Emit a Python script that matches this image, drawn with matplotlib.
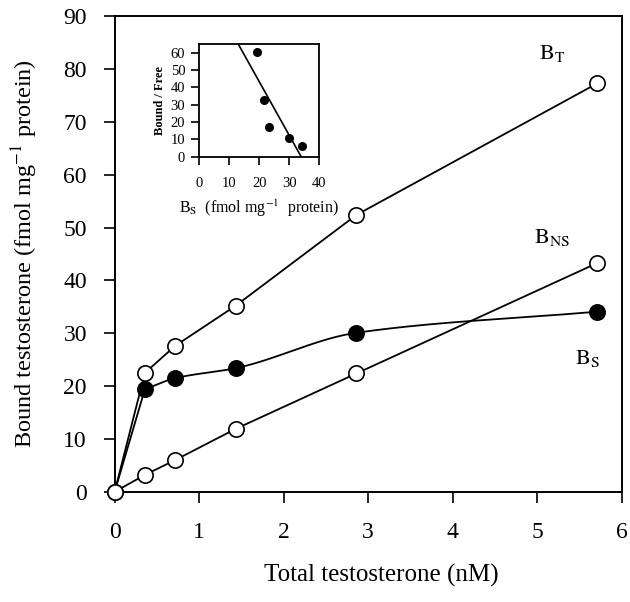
import numpy as np
import matplotlib.pyplot as plt

plt.rcParams['font.family'] = ['Liberation Serif', 'DejaVu Serif']
plt.rcParams['mathtext.fontset'] = 'stix'

# main panel: saturation binding (fmol / mg protein vs total testosterone)
total_nM = [0, 0.357, 0.714, 1.43, 2.86, 5.71]
bound_total = [0, 22.5, 27.6, 35.2, 52.4, 77.3]
bound_nonspecific = [0, 3.2, 6.0, 11.9, 22.4, 43.3]
bound_specific = [0, 19.4, 21.5, 23.4, 30.1, 34.1]

# inset: Scatchard plot of the specific binding
scatchard_bs = [19.1, 21.6, 23.2, 30.0, 34.1]
scatchard_bf = [60.6, 32.7, 17.3, 10.8, 6.3]
scatchard_bmax = 33.9      # x intercept of fitted line
scatchard_slope = -3.11    # -1/Kd


def pchip(x, y, xs):
    """Monotone cubic through the points (used for the smooth B_S curve)."""
    x = np.asarray(x, float)
    y = np.asarray(y, float)
    h = np.diff(x)
    d = np.diff(y) / h
    m = np.zeros_like(y)
    for k in range(1, len(x) - 1):
        if d[k - 1] * d[k] > 0:
            w1 = 2 * h[k] + h[k - 1]
            w2 = h[k] + 2 * h[k - 1]
            m[k] = (w1 + w2) / (w1 / d[k - 1] + w2 / d[k])
    m[0] = d[0]
    m[-1] = d[-1]
    idx = np.clip(np.searchsorted(x, xs) - 1, 0, len(x) - 2)
    t = (xs - x[idx]) / h[idx]
    h00 = 2 * t**3 - 3 * t**2 + 1
    h10 = t**3 - 2 * t**2 + t
    h01 = -2 * t**3 + 3 * t**2
    h11 = t**3 - t**2
    return h00 * y[idx] + h10 * h[idx] * m[idx] + h01 * y[idx + 1] + h11 * h[idx] * m[idx + 1]


fig = plt.figure(figsize=(6.3, 6.02), dpi=100)
ax = fig.add_axes([0.182, 0.183, 0.805, 0.790])

lw = 1.3
ms = 11
ax.plot(total_nM, bound_total, '-', color='black', lw=lw, zorder=2)
ax.plot(total_nM, bound_nonspecific, '-', color='black', lw=lw, zorder=2)

# specific binding: straight rise then smooth curve
ax.plot(total_nM[:2], bound_specific[:2], '-', color='black', lw=lw, zorder=2)
xs = np.linspace(total_nM[1], total_nM[-1], 300)
ax.plot(xs, pchip(total_nM[1:], bound_specific[1:], xs), '-', color='black', lw=lw, zorder=2)

ax.plot(total_nM[1:], bound_specific[1:], 'o', ms=ms, mfc='black', mec='black', mew=1.2, zorder=3)
ax.plot(total_nM, bound_total, 'o', ms=ms, mfc='white', mec='black', mew=1.2, zorder=4, clip_on=False)
ax.plot(total_nM, bound_nonspecific, 'o', ms=ms, mfc='white', mec='black', mew=1.2, zorder=4, clip_on=False)

ax.set_xlim(0, 6)
ax.set_ylim(0, 90)
ax.set_xticks(range(0, 7))
ax.set_yticks(range(0, 91, 10))
ax.tick_params(direction='out', length=8, width=1.2, labelsize=17)
ax.tick_params(axis='x', pad=14)
ax.tick_params(axis='y', pad=12)
for s in ax.spines.values():
    s.set_linewidth(1.4)

ax.set_xlabel('Total testosterone (nM)', fontsize=18)
ax.xaxis.set_label_coords(0.525, -0.152)
ax.set_ylabel(r'Bound testosterone (fmol mg$^{-1}$ protein)', fontsize=17.5)
ax.yaxis.set_label_coords(-0.148, 0.5)

ax.text(5.18, 83, r'$\mathrm{B_T}$', fontsize=16, ha='center', va='center')
ax.text(5.18, 48.2, r'$\mathrm{B_{NS}}$', fontsize=16, ha='center', va='center')
ax.text(5.59, 25.3, r'$\mathrm{B_S}$', fontsize=16, ha='center', va='center')

# inset Scatchard plot
ins = fig.add_axes([0.316, 0.740, 0.191, 0.187])
ins.plot(scatchard_bs, scatchard_bf, 'o', ms=5.5, color='black')
fit_x = np.array([0, scatchard_bmax])
ins.plot(fit_x, scatchard_slope * (fit_x - scatchard_bmax), '-', color='black', lw=1.2)
ins.set_xlim(0, 40)
ins.set_ylim(0, 65)
ins.set_xticks(range(0, 41, 10))
ins.set_yticks(range(0, 61, 10))
ins.tick_params(direction='out', length=6, width=1.2, labelsize=10.5)
ins.tick_params(axis='x', pad=9)
ins.tick_params(axis='y', pad=4)
for s in ins.spines.values():
    s.set_linewidth(1.3)
ins.set_ylabel('Bound / Free', fontsize=9, fontweight='bold', labelpad=3)
ins.set_xlabel(r'B$_\mathrm{S}$  (fmol mg$^{-1}$  protein)', fontsize=11.5, labelpad=5)

fig.savefig('out.png', dpi=100)
